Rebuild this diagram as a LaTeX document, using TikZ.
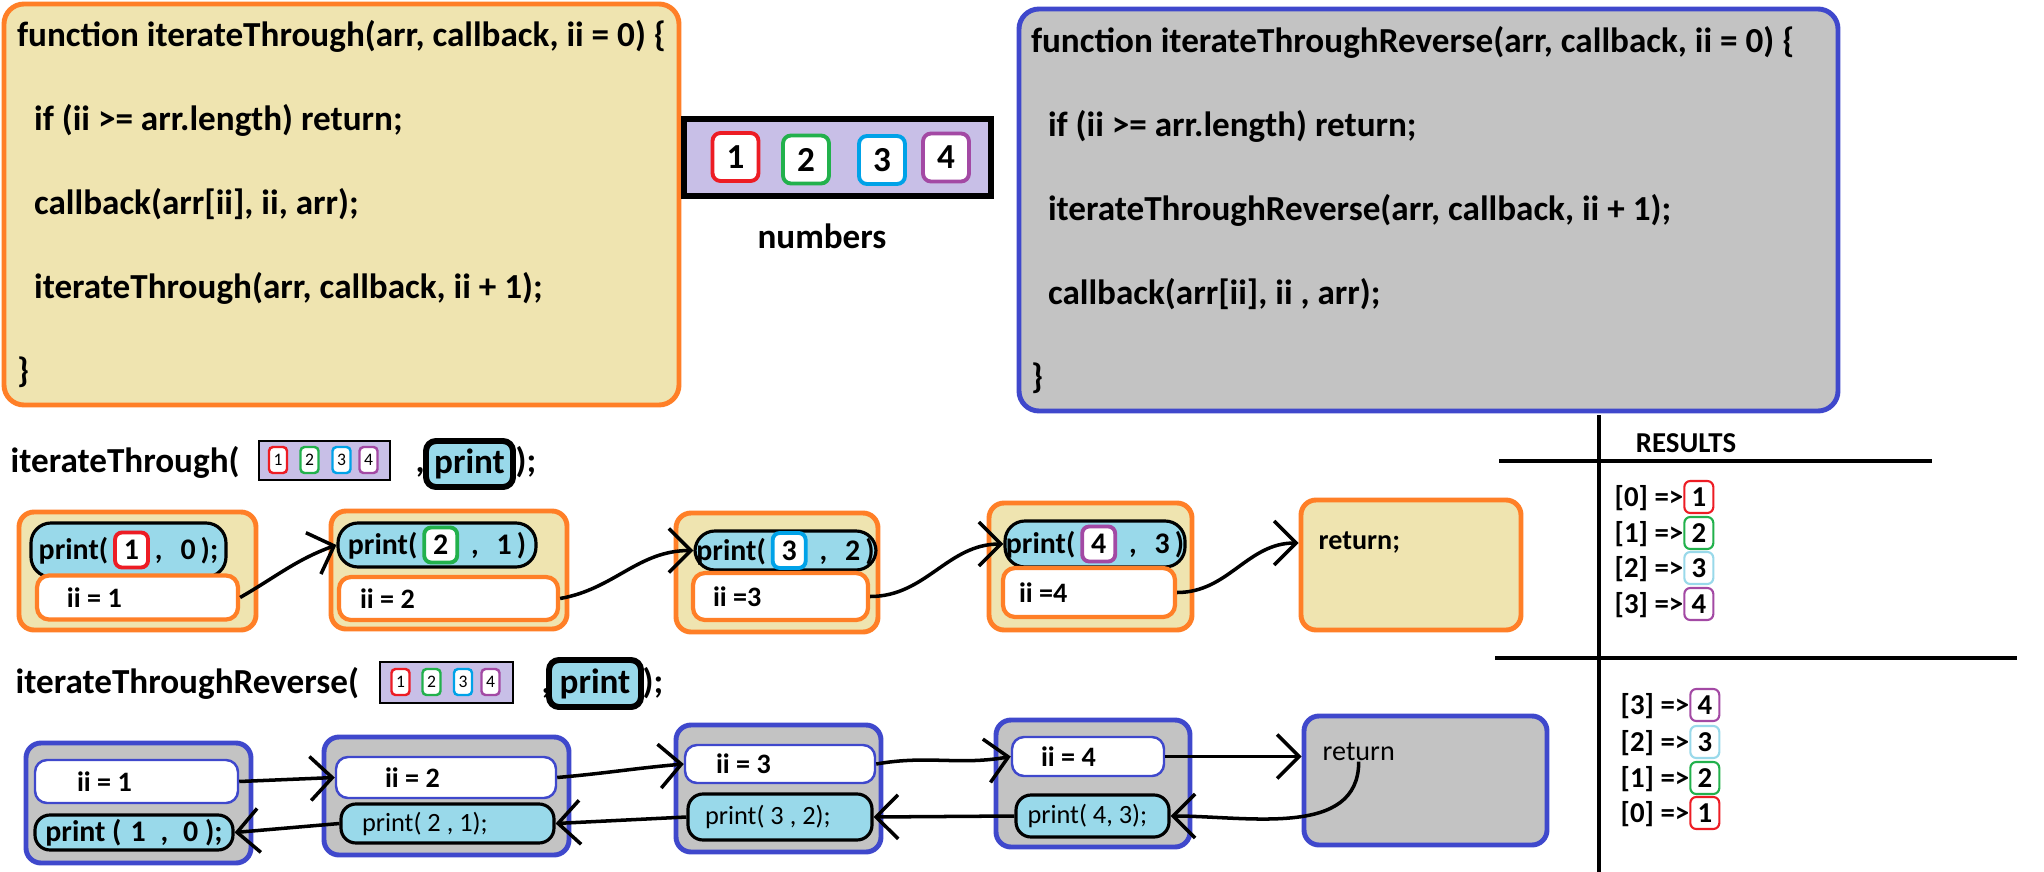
\documentclass[tikz,border=0pt]{standalone}
\usepackage{fontspec}
\setmainfont{Carlito}
\usetikzlibrary{arrows.meta}
\definecolor{paintorange}{RGB}{255,127,39}
\definecolor{paleyellow}{RGB}{239,228,176}
\definecolor{paintblue}{RGB}{63,72,204}
\definecolor{paintgray}{RGB}{195,195,195}
\definecolor{lavender}{RGB}{200,191,231}
\definecolor{skyblue}{RGB}{153,217,234}
\definecolor{paintred}{RGB}{237,28,36}
\definecolor{paintgreen}{RGB}{34,177,76}
\definecolor{paintcyan}{RGB}{0,162,232}
\definecolor{paintpurple}{RGB}{163,73,164}
\newcommand{\digbox}[3][digit]{\tikz[baseline=(BOX.base)]\node[#1,draw=#2] (BOX) {#3};}
\begin{document}
\begin{tikzpicture}[codebox/.style={draw=paintorange,fill=paleyellow,line width=1.4pt,rounded corners=0.2cm,align=flush left,font=\fontsize{10}{23.9}\selectfont\bfseries},
callframe/.style={draw=paintorange,fill=paleyellow,line width=1.4pt,rounded corners=0.15cm,inner sep=0pt},
revframe/.style={draw=paintblue,fill=paintgray,line width=1.4pt,rounded corners=0.15cm,inner sep=0pt},
pill/.style={draw,fill=skyblue,line width=0.9pt,rounded corners=0.2cm,inner sep=0pt,font=\fontsize{8.5}{10}\selectfont\bfseries},
revpill/.style 2 args={pill,rounded corners=0.15cm,align=flush left,inner xsep=#1,text width=#2,font=\fontsize{7.5}{9}\selectfont},
iibox/.style 2 args={draw=paintorange,fill=white,line width=1.2pt,rounded corners=0.12cm,align=flush left,inner ysep=0pt,inner xsep=#1,text width=#2,minimum height=0.44cm,font=\fontsize{8}{10}\selectfont\bfseries},
reviibox/.style 2 args={iibox={#1}{#2},draw=paintblue,line width=0.7pt},
arrbox/.style={draw,fill=lavender,inner sep=0pt},
bigdigit/.style={fill=white,line width=1.1pt,rounded corners=0.08cm,inner sep=0pt,minimum width=0.46cm,minimum height=0.48cm,font=\fontsize{10}{12}\selectfont\bfseries},
minidigit/.style={fill=white,line width=0.7pt,rounded corners=0.04cm,inner sep=0pt,minimum width=0.18cm,minimum height=0.26cm,font=\fontsize{5}{6}\selectfont},
digit/.style={fill=white,line width=1.1pt,rounded corners=0.07cm,inner sep=0pt,minimum width=0.33cm,minimum height=0.35cm},
resdigit/.style={fill=white,line width=0.6pt,rounded corners=0.06cm,inner sep=0pt,minimum width=0.29cm,minimum height=0.32cm},
callprint/.style={draw,fill=skyblue,line width=1.7pt,rounded corners=0.1cm,inner sep=0pt,font=\fontsize{10}{12}\selectfont\bfseries},
calltext/.style={inner sep=0pt,font=\fontsize{10}{12}\selectfont\bfseries},
smalltext/.style={inner sep=0pt,font=\fontsize{8}{10}\selectfont\bfseries},
restext/.style={inner sep=0pt,font=\fontsize{8.2}{10}\selectfont\bfseries},
flow/.style={->,line width=1pt},
>={Straight Barb[length=2.2mm,width=4.4mm]}]
\path[use as bounding box,fill=white] (0,0) rectangle (20.44,-8.72);
\node[codebox,minimum width=6.75cm,minimum height=4.01cm] (CODE001) at (3.415,-2.045) {function iterateThrough(arr, callback, ii = 0) \{\\
\hspace*{0.17cm}if (ii >= arr.length) return;\\
\hspace*{0.17cm}callback(arr[ii], ii, arr);\\
\hspace*{0.17cm}iterateThrough(arr, callback, ii + 1);\\
\}};
\node[codebox,draw=paintblue,fill=paintgray,inner xsep=0.12cm,text width=7.95cm,minimum height=4.02cm] (CODE002) at (14.285,-2.10) {function iterateThroughReverse(arr, callback, ii = 0) \{\\
\hspace*{0.17cm}if (ii >= arr.length) return;\\
\hspace*{0.17cm}iterateThroughReverse(arr, callback, ii + 1);\\
\hspace*{0.17cm}callback(arr[ii], ii , arr);\\
\}};
\node[arrbox,line width=1.7pt,minimum width=3.07cm,minimum height=0.77cm] (NUMS001) at (8.375,-1.575) {};
\node[bigdigit,draw=paintred] (NUM001) at (7.355,-1.57) {1};
\node[bigdigit,draw=paintgreen] (NUM002) at (8.06,-1.595) {2};
\node[bigdigit,draw=paintcyan] (NUM003) at (8.82,-1.60) {3};
\node[bigdigit,draw=paintpurple] (NUM004) at (9.46,-1.575) {4};
\node[calltext] (NUMLABEL) at (8.22,-2.36) {numbers};
\node[calltext,anchor=base west] (CALL001) at (0.10,-4.72) {iterateThrough(};
\node[arrbox,line width=0.6pt,minimum width=1.31cm,minimum height=0.39cm] (ARR001) at (3.245,-4.605) {};
\node[minidigit,draw=paintred] (MINI001) at (2.78,-4.60) {1};
\node[minidigit,draw=paintgreen] (MINI002) at (3.095,-4.60) {2};
\node[minidigit,draw=paintcyan] (MINI003) at (3.415,-4.60) {3};
\node[minidigit,draw=paintpurple] (MINI004) at (3.685,-4.60) {4};
\node[calltext,anchor=base west] (COMMA001) at (4.15,-4.72) {,};
\node[callprint,minimum width=0.87cm,minimum height=0.46cm] (PRINT001) at (4.695,-4.64) {print};
\node[calltext,anchor=base west] (CLOSE001) at (5.15,-4.72) {);};
\node[callframe,minimum width=2.37cm,minimum height=1.18cm] (FWD001) at (1.375,-5.71) {};
\node[pill,minimum width=1.95cm,minimum height=0.54cm] (PR001) at (1.285,-5.50) {print(\,\digbox{paintred}{1}\,,\hspace{0.6em}0\,);};
\node[iibox={0.30cm}{1.41cm}] (II001) at (1.375,-5.975) {ii = 1};
\node[callframe,minimum width=2.36cm,minimum height=1.18cm] (FWD002) at (4.49,-5.70) {};
\node[pill,minimum width=1.98cm,minimum height=0.44cm] (PR002) at (4.37,-5.45) {print(\,\digbox{paintgreen}{2}\hspace{0.4em},\hspace{0.6em}1\,)};
\node[iibox={0.21cm}{1.77cm},minimum height=0.43cm] (II002) at (4.485,-5.985) {ii = 2};
\node[callframe,minimum width=2.02cm,minimum height=1.19cm] (FWD003) at (7.77,-5.725) {};
\node[pill,minimum width=1.81cm,minimum height=0.39cm] (PR003) at (7.855,-5.505) {print(\,\digbox{paintcyan}{3}\hspace{0.4em},\hspace{0.6em}2\,)};
\node[iibox={0.20cm}{1.35cm},minimum height=0.47cm] (II003) at (7.805,-5.965) {ii =3};
\node[callframe,minimum width=2.03cm,minimum height=1.27cm] (FWD004) at (10.905,-5.665) {};
\node[pill,minimum width=1.80cm,minimum height=0.46cm] (PR004) at (10.95,-5.44) {print(\,\digbox{paintpurple}{4}\hspace{0.4em},\hspace{0.6em}3\,)};
\node[iibox={0.16cm}{1.40cm},minimum height=0.49cm] (II004) at (10.89,-5.925) {ii =4};
\node[callframe,minimum width=2.20cm,minimum height=1.30cm] (RET001) at (14.11,-5.65) {};
\node[smalltext,anchor=west] (RETTXT001) at (13.18,-5.43) {return;};
\draw[flow] (II001.east) to[out=30,in=200] (PR002.west);
\draw[flow] (II002.east) to[out=10,in=180] (PR003.west);
\draw[flow] (II003.east) to[out=0,in=180] (PR004.west);
\draw[flow] (II004.east) to[out=0,in=180] (RET001.west |- RETTXT001.west);
\node[calltext,anchor=base west] (CALL002) at (0.15,-6.93) {iterateThroughReverse(};
\node[arrbox,line width=0.6pt,minimum width=1.33cm,minimum height=0.41cm] (ARR002) at (4.465,-6.825) {};
\node[minidigit,draw=paintred] (MINI005) at (4.005,-6.82) {1};
\node[minidigit,draw=paintgreen] (MINI006) at (4.315,-6.82) {2};
\node[minidigit,draw=paintcyan] (MINI007) at (4.63,-6.82) {3};
\node[minidigit,draw=paintpurple] (MINI008) at (4.905,-6.82) {4};
\node[calltext,anchor=base west] (COMMA002) at (5.41,-6.93) {,};
\node[callprint,minimum width=0.92cm,minimum height=0.47cm] (PRINT002) at (5.95,-6.835) {print};
\node[calltext,anchor=base west] (CLOSE002) at (6.42,-6.93) {);};
\node[revframe,minimum width=2.25cm,minimum height=1.20cm] (REV001) at (1.385,-8.03) {};
\node[reviibox={0.42cm}{1.19cm},minimum height=0.43cm] (RII001) at (1.365,-7.815) {ii = 1};
\node[pill,minimum width=1.98cm,minimum height=0.35cm,rounded corners=0.15cm] (RPR001) at (1.34,-8.325) {print (\hspace{0.3em}1\hspace{0.5em},\hspace{0.5em}0 );};
\node[revframe,minimum width=2.45cm,minimum height=1.18cm] (REV002) at (4.465,-7.96) {};
\node[reviibox={0.49cm}{1.22cm},minimum height=0.41cm] (RII002) at (4.46,-7.775) {ii = 2};
\node[revpill={0.21cm}{1.71cm},minimum height=0.39cm] (RPR002) at (4.475,-8.235) {print( 2 , 1);};
\node[revframe,minimum width=2.05cm,minimum height=1.27cm] (REV003) at (7.785,-7.885) {};
\node[reviibox={0.31cm}{1.28cm},minimum height=0.38cm] (RII003) at (7.80,-7.64) {ii = 3};
\node[revpill={0.17cm}{1.50cm},minimum height=0.46cm] (RPR003) at (7.80,-8.17) {print( 3 , 2);};
\node[revframe,minimum width=1.94cm,minimum height=1.27cm] (REV004) at (10.93,-7.835) {};
\node[reviibox={0.29cm}{0.94cm},minimum height=0.39cm] (RII004) at (10.88,-7.565) {ii = 4};
\node[revpill={0.115cm}{1.30cm},minimum height=0.42cm] (RPR004) at (10.925,-8.16) {print( 4, 3);};
\node[revframe,minimum width=2.43cm,minimum height=1.29cm] (RET002) at (14.255,-7.805) {};
\node[smalltext,anchor=west,font=\fontsize{8}{10}\selectfont] (RETTXT002) at (13.22,-7.52) {return};
\draw[flow] (RII001.east) -- (RII002.west);
\draw[flow] (RII002.east) to[out=5,in=185] (RII003.west);
\draw[flow] (RII003.east) to[out=10,in=190] (RII004.west);
\draw[flow] (RII004.east) -- (RII004.east -| RET002.west);
\draw[flow] (RETTXT002.south) to[out=-90,in=0] (RPR004.east);
\draw[flow] (RPR004.west) -- (RPR003.east);
\draw[flow] (RPR003.west) -- (RPR002.east);
\draw[flow] (RPR002.west) -- (RPR001.east);
\draw[line width=1pt] (15.99,-4.15) -- (15.99,-8.72);
\draw[line width=1pt] (14.99,-4.61) -- (19.32,-4.61);
\draw[line width=1pt] (14.95,-6.58) -- (20.17,-6.58);
\node[restext] (RESHEAD) at (16.86,-4.43) {RESULTS};
\node[restext,anchor=west] (RES001) at (16.14,-4.97) {[0] =>\digbox[resdigit]{paintred}{1}};
\node[restext,anchor=west] (RES002) at (16.14,-5.33) {[1] =>\digbox[resdigit]{paintgreen}{2}};
\node[restext,anchor=west] (RES003) at (16.14,-5.68) {[2] =>\digbox[resdigit]{skyblue}{3}};
\node[restext,anchor=west] (RES004) at (16.14,-6.04) {[3] =>\digbox[resdigit]{paintpurple}{4}};
\node[restext,anchor=west] (RES005) at (16.20,-7.05) {[3] =>\digbox[resdigit]{paintpurple}{4}};
\node[restext,anchor=west] (RES006) at (16.20,-7.42) {[2] =>\digbox[resdigit]{skyblue}{3}};
\node[restext,anchor=west] (RES007) at (16.20,-7.78) {[1] =>\digbox[resdigit]{paintgreen}{2}};
\node[restext,anchor=west] (RES008) at (16.20,-8.13) {[0] =>\digbox[resdigit]{paintred}{1}};
\end{tikzpicture}
\end{document}
